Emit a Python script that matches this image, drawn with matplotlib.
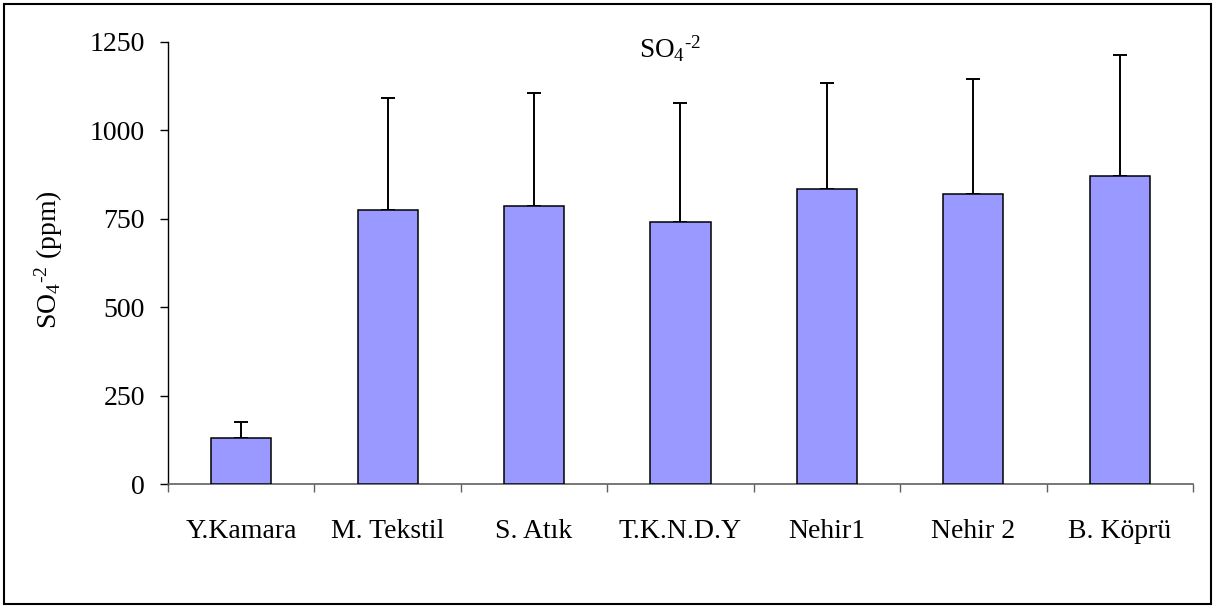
import matplotlib
matplotlib.use("Agg")
import matplotlib.pyplot as plt
from matplotlib.patches import Rectangle
import numpy as np

# sulphate means and (upper) standard deviations per sampling point
stations = ["Y.Kamara", "M. Tekstil", "S. Atık", "T.K.N.D.Y", "Nehir1", "Nehir 2", "B. Köprü"]
so4_mean = [130, 775, 787, 740, 835, 819, 870]
so4_sd = [47, 317, 317, 338, 299, 326, 343]
yticks = [0, 250, 500, 750, 1000, 1250]

plt.rcParams["font.family"] = ["Liberation Serif", "DejaVu Serif"]
plt.rcParams["mathtext.fontset"] = "custom"
plt.rcParams["mathtext.rm"] = "Liberation Serif"
plt.rcParams["mathtext.it"] = "Liberation Serif:italic"
plt.rcParams["mathtext.default"] = "regular"

fig = plt.figure(figsize=(12.15, 6.08), dpi=100)
ax = fig.add_axes([168 / 1215, 1 - 484.2 / 608, 1025 / 1215, 442.5 / 608])

x = np.arange(len(stations))
ax.bar(x, so4_mean, width=0.41, color="#9999ff", edgecolor="black", linewidth=1.1, zorder=3)
ax.errorbar(x, so4_mean, yerr=[np.zeros(len(x)), so4_sd], fmt="none", ecolor="black",
            elinewidth=1.4, capsize=5, capthick=1.4, zorder=2)

ax.set_xlim(-0.5, len(stations) - 0.5)
ax.set_ylim(0, 1250)
ax.set_yticks(yticks)
ax.set_yticklabels([str(v) for v in yticks], fontsize=20)
ax.tick_params(axis="y", direction="out", length=6, width=1, pad=10.5, color="black")

# category boundaries get the tick marks, names sit in between
ax.set_xticks(np.arange(-0.5, len(stations), 1.0))
ax.set_xticklabels([])
ax.set_xticks(x, minor=True)
ax.set_xticklabels(stations, minor=True, fontsize=20)
ax.tick_params(axis="x", which="major", direction="out", length=6, width=1, color="#606060")
ax.tick_params(axis="x", which="minor", length=0, pad=25)

for s in ["top", "right"]:
    ax.spines[s].set_visible(False)
ax.spines["left"].set_color("black")
ax.spines["left"].set_linewidth(1)
ax.spines["bottom"].set_color("#606060")
ax.spines["bottom"].set_linewidth(1.2)

so4 = r"SO$_4$$^{\text{-}2}$"
fig.text(670 / 1215, 1 - 58 / 608, so4, fontsize=19.5, ha="center", va="baseline")
fig.text(49 / 1215, 1 - 259.5 / 608, so4 + " (ppm)", fontsize=20, rotation=90,
         ha="center", va="center")

# outer frame around the whole chart
fig.patches.append(Rectangle((4 / 1215, 4 / 608), 1207 / 1215, 600 / 608, transform=fig.transFigure,
                             fill=False, edgecolor="black", linewidth=1.5))

fig.savefig("out.png", dpi=100)
